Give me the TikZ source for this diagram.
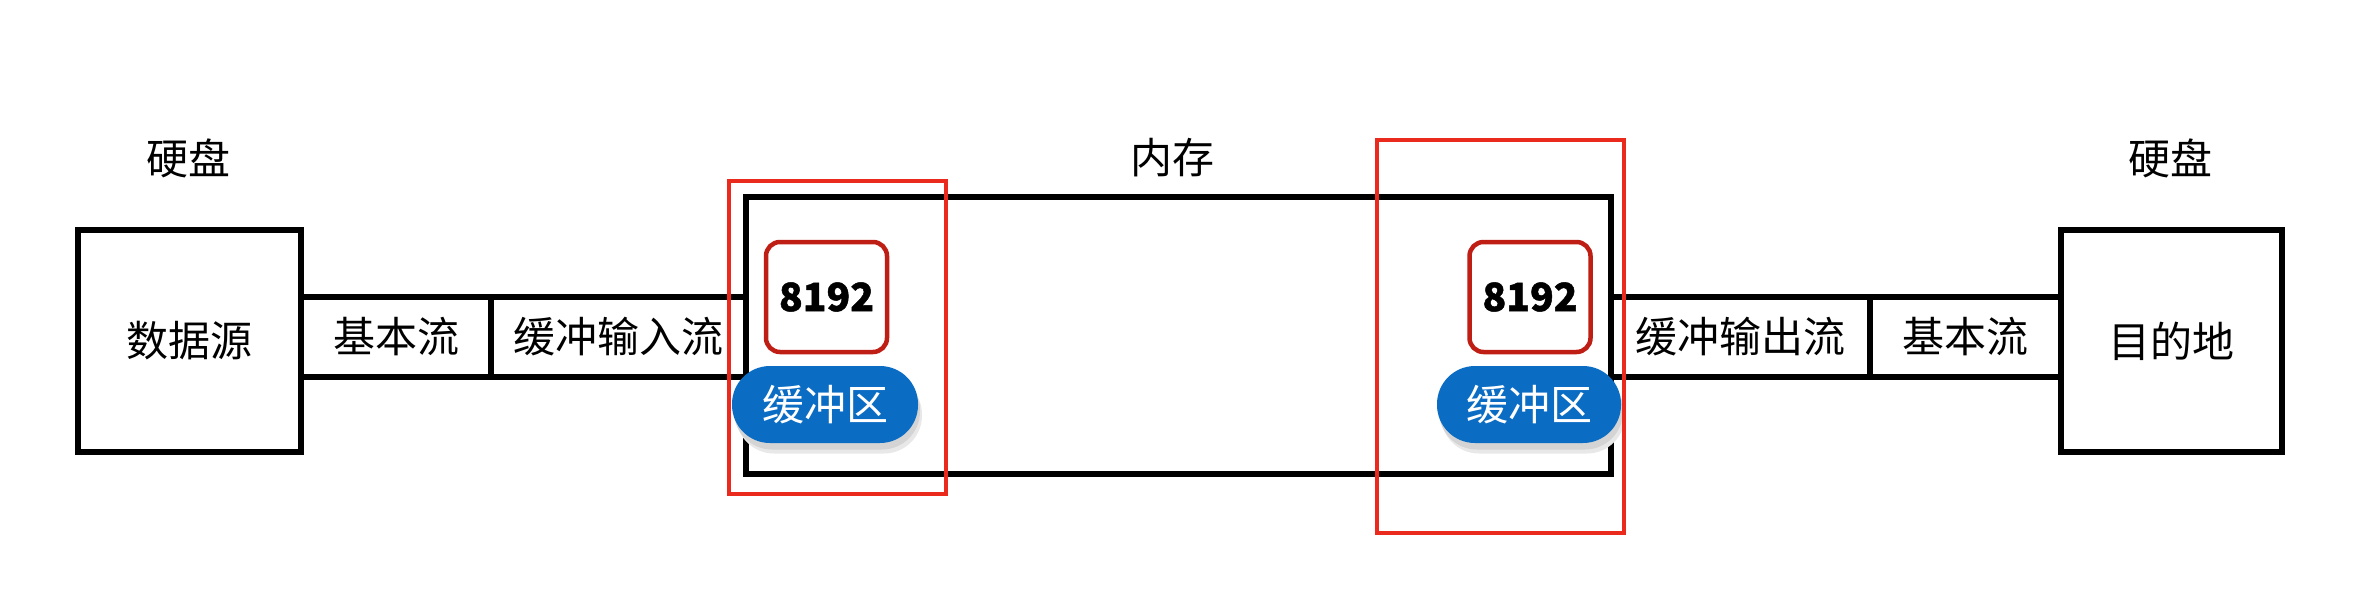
\documentclass[tikz,border=0pt]{standalone}
\usepackage{fontspec}
\setmainfont{Noto Sans CJK SC}
\definecolor{numred}{HTML}{BE1E14}
\definecolor{framered}{HTML}{EA2A1C}
\definecolor{pillblue}{HTML}{0B6CC4}
\begin{document}
\begin{tikzpicture}[x=1pt,y=-1pt,
  txt/.style={font=\fontsize{42}{48}\selectfont},
  box/.style={draw=black,line width=5.5pt,fill=white,inner sep=0pt,txt},
  numbox/.style={draw=numred,line width=4.5pt,fill=white,rounded corners=14pt,inner sep=0pt,
    minimum width=121pt,minimum height=110pt,font=\bfseries\addfontfeature{FakeBold=1.2}\fontsize{39}{44}\selectfont},
  pill/.style={fill=pillblue,text=white,rounded corners=38pt,inner sep=0pt,
    minimum height=77pt,txt},
  shadowA/.style={fill=black!9,rounded corners=38pt,minimum height=77pt},
  shadowB/.style={fill=black!17,rounded corners=38pt,minimum height=77pt},
  frame/.style={draw=framered,line width=4pt}
]
\useasboundingbox (0,0) rectangle (2362,605);
\fill[white] (0,0) rectangle (2362,605);

% labels
\node[txt] (hd1) at (188,158) {硬盘};
\node[txt] (mlabel) at (1172,158) {内存};
\node[txt] (hd2) at (2170,158) {硬盘};

% disks
\node[box,minimum width=223pt,minimum height=222pt] (src) at (189.5,341) {数据源};
\node[box,minimum width=221pt,minimum height=222pt] (dst) at (2171.5,341) {目的地};

% memory
\node[box,minimum width=865pt,minimum height=277pt] (mem) at (1178.5,335.5) {};

% stream cells
\node[box,minimum width=190pt,minimum height=80pt] (base1) at (396,337) {基本流};
\node[box,minimum width=255pt,minimum height=80pt] (bin) at (618.5,337) {缓冲输入流};
\node[box,minimum width=259pt,minimum height=80pt] (bout) at (1740.5,337) {缓冲输出流};
\node[box,minimum width=191pt,minimum height=80pt] (base2) at (1965.5,337) {基本流};

% left buffer
\node[numbox] (n1) at (826.5,297) {8192};
\node[shadowA,minimum width=186pt] (s1a) at (829,415) {};
\node[shadowB,minimum width=186pt] (s1b) at (827,411) {};
\node[pill,minimum width=186pt] (p1) at (825,404.5) {缓冲区};

% right buffer
\node[numbox] (n2) at (1530,297) {8192};
\node[shadowA,minimum width=184pt] (s2a) at (1533,415) {};
\node[shadowB,minimum width=184pt] (s2b) at (1531,411) {};
\node[pill,minimum width=184pt] (p2) at (1529,404.5) {缓冲区};

% red frames
\node[frame,minimum width=217pt,minimum height=313pt] (f1) at (837.5,337.5) {};
\node[frame,minimum width=247pt,minimum height=393pt] (f2) at (1500.5,336.5) {};
\end{tikzpicture}
\end{document}
